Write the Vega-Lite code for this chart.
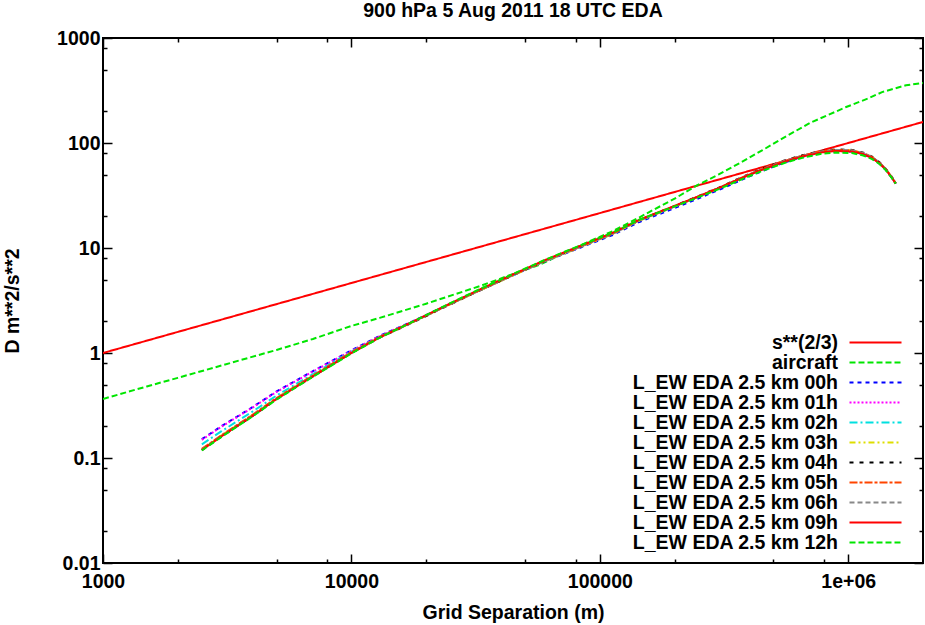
{
  "$schema": "https://vega.github.io/schema/vega-lite/v6.json",
  "autosize": "none",
  "width": 820,
  "height": 525,
  "padding": {"left": 103, "top": 38, "right": 2, "bottom": 62},
  "background": "white",
  "config": {
    "view": {"stroke": "black", "strokeWidth": 2},
    "font": "Liberation Sans",
    "axis": {"labelFont": "Liberation Sans", "titleFont": "Liberation Sans", "labelColor": "black", "titleColor": "black", "tickColor": "black", "tickWidth": 1.5, "grid": false, "domain": false}
  },
  "title": {"text": "900 hPa 5 Aug 2011 18 UTC EDA", "fontSize": 19.5, "fontWeight": "bold", "font": "Liberation Sans", "anchor": "middle", "baseline": "alphabetic", "offset": -8},
  "data": {"values": [
    {"s": "s**(2/3)", "x": 1000, "y": 1},
    {"s": "s**(2/3)", "x": 10000, "y": 4.64},
    {"s": "s**(2/3)", "x": 100000, "y": 21.5},
    {"s": "s**(2/3)", "x": 1000000, "y": 100},
    {"s": "s**(2/3)", "x": 2000000, "y": 158.7},

    {"s": "aircraft", "x": 1000, "y": 0.365},
    {"s": "aircraft", "x": 1500, "y": 0.48},
    {"s": "aircraft", "x": 2000, "y": 0.58},
    {"s": "aircraft", "x": 3000, "y": 0.76},
    {"s": "aircraft", "x": 5000, "y": 1.07},
    {"s": "aircraft", "x": 7000, "y": 1.36},
    {"s": "aircraft", "x": 10000, "y": 1.81},
    {"s": "aircraft", "x": 13000, "y": 2.16},
    {"s": "aircraft", "x": 20000, "y": 2.95},
    {"s": "aircraft", "x": 33000, "y": 4.35},
    {"s": "aircraft", "x": 47500, "y": 5.95},
    {"s": "aircraft", "x": 57000, "y": 6.9},
    {"s": "aircraft", "x": 88000, "y": 11.2},
    {"s": "aircraft", "x": 113000, "y": 14.5},
    {"s": "aircraft", "x": 144000, "y": 19.5},
    {"s": "aircraft", "x": 158000, "y": 22.0},
    {"s": "aircraft", "x": 200000, "y": 29.5},
    {"s": "aircraft", "x": 244000, "y": 39},
    {"s": "aircraft", "x": 300000, "y": 50},
    {"s": "aircraft", "x": 364000, "y": 64},
    {"s": "aircraft", "x": 450000, "y": 85},
    {"s": "aircraft", "x": 542000, "y": 110},
    {"s": "aircraft", "x": 700000, "y": 155},
    {"s": "aircraft", "x": 981000, "y": 220},
    {"s": "aircraft", "x": 1200000, "y": 265},
    {"s": "aircraft", "x": 1368000, "y": 305},
    {"s": "aircraft", "x": 1709000, "y": 355},
    {"s": "aircraft", "x": 2000000, "y": 372},

    {"s": "L_EW EDA 2.5 km 00h", "x": 2500, "y": 0.151},
    {"s": "L_EW EDA 2.5 km 00h", "x": 3000, "y": 0.201},
    {"s": "L_EW EDA 2.5 km 00h", "x": 4000, "y": 0.305},
    {"s": "L_EW EDA 2.5 km 00h", "x": 5000, "y": 0.431},
    {"s": "L_EW EDA 2.5 km 00h", "x": 7000, "y": 0.672},
    {"s": "L_EW EDA 2.5 km 00h", "x": 10000, "y": 1.06},
    {"s": "L_EW EDA 2.5 km 00h", "x": 13000, "y": 1.456},
    {"s": "L_EW EDA 2.5 km 00h", "x": 17700, "y": 2.01},
    {"s": "L_EW EDA 2.5 km 00h", "x": 24100, "y": 2.83},
    {"s": "L_EW EDA 2.5 km 00h", "x": 32800, "y": 3.95},
    {"s": "L_EW EDA 2.5 km 00h", "x": 44650, "y": 5.5},
    {"s": "L_EW EDA 2.5 km 00h", "x": 60800, "y": 7.55},
    {"s": "L_EW EDA 2.5 km 00h", "x": 82760, "y": 10.0},
    {"s": "L_EW EDA 2.5 km 00h", "x": 112700, "y": 13.3},
    {"s": "L_EW EDA 2.5 km 00h", "x": 144300, "y": 17.7},
    {"s": "L_EW EDA 2.5 km 00h", "x": 184800, "y": 22.3},
    {"s": "L_EW EDA 2.5 km 00h", "x": 240000, "y": 28.6},
    {"s": "L_EW EDA 2.5 km 00h", "x": 302700, "y": 35.9},
    {"s": "L_EW EDA 2.5 km 00h", "x": 380000, "y": 45.6},
    {"s": "L_EW EDA 2.5 km 00h", "x": 451800, "y": 54.2},
    {"s": "L_EW EDA 2.5 km 00h", "x": 550000, "y": 65.0},
    {"s": "L_EW EDA 2.5 km 00h", "x": 654600, "y": 74.0},
    {"s": "L_EW EDA 2.5 km 00h", "x": 780000, "y": 81.4},
    {"s": "L_EW EDA 2.5 km 00h", "x": 891300, "y": 84.0},
    {"s": "L_EW EDA 2.5 km 00h", "x": 1037000, "y": 83.0},
    {"s": "L_EW EDA 2.5 km 00h", "x": 1150000, "y": 78.2},
    {"s": "L_EW EDA 2.5 km 00h", "x": 1248000, "y": 71.7},
    {"s": "L_EW EDA 2.5 km 00h", "x": 1340000, "y": 63.3},
    {"s": "L_EW EDA 2.5 km 00h", "x": 1416000, "y": 55.5},
    {"s": "L_EW EDA 2.5 km 00h", "x": 1490000, "y": 47.5},
    {"s": "L_EW EDA 2.5 km 00h", "x": 1554000, "y": 41.0},

    {"s": "L_EW EDA 2.5 km 01h", "x": 2500, "y": 0.149},
    {"s": "L_EW EDA 2.5 km 01h", "x": 3000, "y": 0.199},
    {"s": "L_EW EDA 2.5 km 01h", "x": 4000, "y": 0.302},
    {"s": "L_EW EDA 2.5 km 01h", "x": 5000, "y": 0.427},
    {"s": "L_EW EDA 2.5 km 01h", "x": 7000, "y": 0.666},
    {"s": "L_EW EDA 2.5 km 01h", "x": 10000, "y": 1.05},
    {"s": "L_EW EDA 2.5 km 01h", "x": 13000, "y": 1.45},
    {"s": "L_EW EDA 2.5 km 01h", "x": 17700, "y": 2.0},
    {"s": "L_EW EDA 2.5 km 01h", "x": 24100, "y": 2.82},
    {"s": "L_EW EDA 2.5 km 01h", "x": 32800, "y": 3.96},
    {"s": "L_EW EDA 2.5 km 01h", "x": 44650, "y": 5.52},
    {"s": "L_EW EDA 2.5 km 01h", "x": 60800, "y": 7.62},
    {"s": "L_EW EDA 2.5 km 01h", "x": 82760, "y": 10.2},
    {"s": "L_EW EDA 2.5 km 01h", "x": 112700, "y": 13.7},
    {"s": "L_EW EDA 2.5 km 01h", "x": 144300, "y": 18.3},
    {"s": "L_EW EDA 2.5 km 01h", "x": 184800, "y": 23.1},
    {"s": "L_EW EDA 2.5 km 01h", "x": 240000, "y": 29.7},
    {"s": "L_EW EDA 2.5 km 01h", "x": 302700, "y": 37.3},
    {"s": "L_EW EDA 2.5 km 01h", "x": 380000, "y": 47.4},
    {"s": "L_EW EDA 2.5 km 01h", "x": 451800, "y": 56.1},
    {"s": "L_EW EDA 2.5 km 01h", "x": 550000, "y": 66.3},
    {"s": "L_EW EDA 2.5 km 01h", "x": 654600, "y": 74.8},
    {"s": "L_EW EDA 2.5 km 01h", "x": 780000, "y": 82.2},
    {"s": "L_EW EDA 2.5 km 01h", "x": 891300, "y": 85.0},
    {"s": "L_EW EDA 2.5 km 01h", "x": 1037000, "y": 84.0},
    {"s": "L_EW EDA 2.5 km 01h", "x": 1150000, "y": 79.0},
    {"s": "L_EW EDA 2.5 km 01h", "x": 1248000, "y": 72.2},
    {"s": "L_EW EDA 2.5 km 01h", "x": 1340000, "y": 63.6},
    {"s": "L_EW EDA 2.5 km 01h", "x": 1416000, "y": 55.8},
    {"s": "L_EW EDA 2.5 km 01h", "x": 1490000, "y": 47.6},
    {"s": "L_EW EDA 2.5 km 01h", "x": 1554000, "y": 41.1},

    {"s": "L_EW EDA 2.5 km 02h", "x": 2500, "y": 0.135},
    {"s": "L_EW EDA 2.5 km 02h", "x": 3000, "y": 0.180},
    {"s": "L_EW EDA 2.5 km 02h", "x": 4000, "y": 0.277},
    {"s": "L_EW EDA 2.5 km 02h", "x": 5000, "y": 0.394},
    {"s": "L_EW EDA 2.5 km 02h", "x": 7000, "y": 0.63},
    {"s": "L_EW EDA 2.5 km 02h", "x": 10000, "y": 1.03},
    {"s": "L_EW EDA 2.5 km 02h", "x": 13000, "y": 1.43},
    {"s": "L_EW EDA 2.5 km 02h", "x": 17700, "y": 1.99},
    {"s": "L_EW EDA 2.5 km 02h", "x": 24100, "y": 2.81},
    {"s": "L_EW EDA 2.5 km 02h", "x": 32800, "y": 3.95},
    {"s": "L_EW EDA 2.5 km 02h", "x": 44650, "y": 5.5},
    {"s": "L_EW EDA 2.5 km 02h", "x": 60800, "y": 7.6},
    {"s": "L_EW EDA 2.5 km 02h", "x": 82760, "y": 10.2},
    {"s": "L_EW EDA 2.5 km 02h", "x": 112700, "y": 13.7},
    {"s": "L_EW EDA 2.5 km 02h", "x": 144300, "y": 18.3},
    {"s": "L_EW EDA 2.5 km 02h", "x": 184800, "y": 23.0},
    {"s": "L_EW EDA 2.5 km 02h", "x": 240000, "y": 29.6},
    {"s": "L_EW EDA 2.5 km 02h", "x": 302700, "y": 37.2},
    {"s": "L_EW EDA 2.5 km 02h", "x": 380000, "y": 47.3},
    {"s": "L_EW EDA 2.5 km 02h", "x": 451800, "y": 56.0},
    {"s": "L_EW EDA 2.5 km 02h", "x": 550000, "y": 66.2},
    {"s": "L_EW EDA 2.5 km 02h", "x": 654600, "y": 74.6},
    {"s": "L_EW EDA 2.5 km 02h", "x": 780000, "y": 82.0},
    {"s": "L_EW EDA 2.5 km 02h", "x": 891300, "y": 84.9},
    {"s": "L_EW EDA 2.5 km 02h", "x": 1037000, "y": 84.0},
    {"s": "L_EW EDA 2.5 km 02h", "x": 1150000, "y": 79.2},
    {"s": "L_EW EDA 2.5 km 02h", "x": 1248000, "y": 72.5},
    {"s": "L_EW EDA 2.5 km 02h", "x": 1340000, "y": 64.0},
    {"s": "L_EW EDA 2.5 km 02h", "x": 1416000, "y": 56.0},
    {"s": "L_EW EDA 2.5 km 02h", "x": 1490000, "y": 47.8},
    {"s": "L_EW EDA 2.5 km 02h", "x": 1554000, "y": 41.2},

    {"s": "L_EW EDA 2.5 km 03h", "x": 2500, "y": 0.121},
    {"s": "L_EW EDA 2.5 km 03h", "x": 3000, "y": 0.164},
    {"s": "L_EW EDA 2.5 km 03h", "x": 4000, "y": 0.257},
    {"s": "L_EW EDA 2.5 km 03h", "x": 5000, "y": 0.372},
    {"s": "L_EW EDA 2.5 km 03h", "x": 7000, "y": 0.61},
    {"s": "L_EW EDA 2.5 km 03h", "x": 10000, "y": 1.01},
    {"s": "L_EW EDA 2.5 km 03h", "x": 13000, "y": 1.41},
    {"s": "L_EW EDA 2.5 km 03h", "x": 17700, "y": 1.97},
    {"s": "L_EW EDA 2.5 km 03h", "x": 24100, "y": 2.80},
    {"s": "L_EW EDA 2.5 km 03h", "x": 32800, "y": 3.93},
    {"s": "L_EW EDA 2.5 km 03h", "x": 44650, "y": 5.47},
    {"s": "L_EW EDA 2.5 km 03h", "x": 60800, "y": 7.55},
    {"s": "L_EW EDA 2.5 km 03h", "x": 82760, "y": 10.1},
    {"s": "L_EW EDA 2.5 km 03h", "x": 112700, "y": 13.6},
    {"s": "L_EW EDA 2.5 km 03h", "x": 144300, "y": 18.2},
    {"s": "L_EW EDA 2.5 km 03h", "x": 184800, "y": 23.0},
    {"s": "L_EW EDA 2.5 km 03h", "x": 240000, "y": 29.6},
    {"s": "L_EW EDA 2.5 km 03h", "x": 302700, "y": 37.3},
    {"s": "L_EW EDA 2.5 km 03h", "x": 380000, "y": 47.6},
    {"s": "L_EW EDA 2.5 km 03h", "x": 451800, "y": 56.5},
    {"s": "L_EW EDA 2.5 km 03h", "x": 550000, "y": 67.0},
    {"s": "L_EW EDA 2.5 km 03h", "x": 654600, "y": 75.6},
    {"s": "L_EW EDA 2.5 km 03h", "x": 780000, "y": 83.0},
    {"s": "L_EW EDA 2.5 km 03h", "x": 891300, "y": 86.0},
    {"s": "L_EW EDA 2.5 km 03h", "x": 1037000, "y": 85.0},
    {"s": "L_EW EDA 2.5 km 03h", "x": 1150000, "y": 80.0},
    {"s": "L_EW EDA 2.5 km 03h", "x": 1248000, "y": 73.3},
    {"s": "L_EW EDA 2.5 km 03h", "x": 1340000, "y": 64.6},
    {"s": "L_EW EDA 2.5 km 03h", "x": 1416000, "y": 56.4},
    {"s": "L_EW EDA 2.5 km 03h", "x": 1490000, "y": 48.0},
    {"s": "L_EW EDA 2.5 km 03h", "x": 1554000, "y": 41.3},

    {"s": "L_EW EDA 2.5 km 04h", "x": 2500, "y": 0.119},
    {"s": "L_EW EDA 2.5 km 04h", "x": 3000, "y": 0.160},
    {"s": "L_EW EDA 2.5 km 04h", "x": 4000, "y": 0.251},
    {"s": "L_EW EDA 2.5 km 04h", "x": 5000, "y": 0.363},
    {"s": "L_EW EDA 2.5 km 04h", "x": 7000, "y": 0.60},
    {"s": "L_EW EDA 2.5 km 04h", "x": 10000, "y": 1.0},
    {"s": "L_EW EDA 2.5 km 04h", "x": 13000, "y": 1.40},
    {"s": "L_EW EDA 2.5 km 04h", "x": 17700, "y": 1.96},
    {"s": "L_EW EDA 2.5 km 04h", "x": 24100, "y": 2.79},
    {"s": "L_EW EDA 2.5 km 04h", "x": 32800, "y": 3.94},
    {"s": "L_EW EDA 2.5 km 04h", "x": 44650, "y": 5.5},
    {"s": "L_EW EDA 2.5 km 04h", "x": 60800, "y": 7.62},
    {"s": "L_EW EDA 2.5 km 04h", "x": 82760, "y": 10.25},
    {"s": "L_EW EDA 2.5 km 04h", "x": 112700, "y": 13.8},
    {"s": "L_EW EDA 2.5 km 04h", "x": 144300, "y": 18.5},
    {"s": "L_EW EDA 2.5 km 04h", "x": 184800, "y": 23.3},
    {"s": "L_EW EDA 2.5 km 04h", "x": 240000, "y": 30.0},
    {"s": "L_EW EDA 2.5 km 04h", "x": 302700, "y": 37.8},
    {"s": "L_EW EDA 2.5 km 04h", "x": 380000, "y": 48.2},
    {"s": "L_EW EDA 2.5 km 04h", "x": 451800, "y": 57.2},
    {"s": "L_EW EDA 2.5 km 04h", "x": 550000, "y": 67.8},
    {"s": "L_EW EDA 2.5 km 04h", "x": 654600, "y": 76.5},
    {"s": "L_EW EDA 2.5 km 04h", "x": 780000, "y": 84.0},
    {"s": "L_EW EDA 2.5 km 04h", "x": 891300, "y": 87.0},
    {"s": "L_EW EDA 2.5 km 04h", "x": 1037000, "y": 86.0},
    {"s": "L_EW EDA 2.5 km 04h", "x": 1150000, "y": 81.0},
    {"s": "L_EW EDA 2.5 km 04h", "x": 1248000, "y": 74.0},
    {"s": "L_EW EDA 2.5 km 04h", "x": 1340000, "y": 65.2},
    {"s": "L_EW EDA 2.5 km 04h", "x": 1416000, "y": 56.8},
    {"s": "L_EW EDA 2.5 km 04h", "x": 1490000, "y": 48.3},
    {"s": "L_EW EDA 2.5 km 04h", "x": 1554000, "y": 41.5},

    {"s": "L_EW EDA 2.5 km 05h", "x": 2500, "y": 0.122},
    {"s": "L_EW EDA 2.5 km 05h", "x": 3000, "y": 0.165},
    {"s": "L_EW EDA 2.5 km 05h", "x": 4000, "y": 0.258},
    {"s": "L_EW EDA 2.5 km 05h", "x": 5000, "y": 0.373},
    {"s": "L_EW EDA 2.5 km 05h", "x": 7000, "y": 0.612},
    {"s": "L_EW EDA 2.5 km 05h", "x": 10000, "y": 1.02},
    {"s": "L_EW EDA 2.5 km 05h", "x": 13000, "y": 1.42},
    {"s": "L_EW EDA 2.5 km 05h", "x": 17700, "y": 1.98},
    {"s": "L_EW EDA 2.5 km 05h", "x": 24100, "y": 2.81},
    {"s": "L_EW EDA 2.5 km 05h", "x": 32800, "y": 3.96},
    {"s": "L_EW EDA 2.5 km 05h", "x": 44650, "y": 5.52},
    {"s": "L_EW EDA 2.5 km 05h", "x": 60800, "y": 7.62},
    {"s": "L_EW EDA 2.5 km 05h", "x": 82760, "y": 10.2},
    {"s": "L_EW EDA 2.5 km 05h", "x": 112700, "y": 13.75},
    {"s": "L_EW EDA 2.5 km 05h", "x": 144300, "y": 18.4},
    {"s": "L_EW EDA 2.5 km 05h", "x": 184800, "y": 23.2},
    {"s": "L_EW EDA 2.5 km 05h", "x": 240000, "y": 29.8},
    {"s": "L_EW EDA 2.5 km 05h", "x": 302700, "y": 37.5},
    {"s": "L_EW EDA 2.5 km 05h", "x": 380000, "y": 47.8},
    {"s": "L_EW EDA 2.5 km 05h", "x": 451800, "y": 56.7},
    {"s": "L_EW EDA 2.5 km 05h", "x": 550000, "y": 67.1},
    {"s": "L_EW EDA 2.5 km 05h", "x": 654600, "y": 75.7},
    {"s": "L_EW EDA 2.5 km 05h", "x": 780000, "y": 83.0},
    {"s": "L_EW EDA 2.5 km 05h", "x": 891300, "y": 86.0},
    {"s": "L_EW EDA 2.5 km 05h", "x": 1037000, "y": 85.0},
    {"s": "L_EW EDA 2.5 km 05h", "x": 1150000, "y": 80.0},
    {"s": "L_EW EDA 2.5 km 05h", "x": 1248000, "y": 73.3},
    {"s": "L_EW EDA 2.5 km 05h", "x": 1340000, "y": 64.6},
    {"s": "L_EW EDA 2.5 km 05h", "x": 1416000, "y": 56.4},
    {"s": "L_EW EDA 2.5 km 05h", "x": 1490000, "y": 48.0},
    {"s": "L_EW EDA 2.5 km 05h", "x": 1554000, "y": 41.3},

    {"s": "L_EW EDA 2.5 km 06h", "x": 2500, "y": 0.120},
    {"s": "L_EW EDA 2.5 km 06h", "x": 3000, "y": 0.162},
    {"s": "L_EW EDA 2.5 km 06h", "x": 4000, "y": 0.254},
    {"s": "L_EW EDA 2.5 km 06h", "x": 5000, "y": 0.367},
    {"s": "L_EW EDA 2.5 km 06h", "x": 7000, "y": 0.604},
    {"s": "L_EW EDA 2.5 km 06h", "x": 10000, "y": 1.0},
    {"s": "L_EW EDA 2.5 km 06h", "x": 13000, "y": 1.40},
    {"s": "L_EW EDA 2.5 km 06h", "x": 17700, "y": 1.97},
    {"s": "L_EW EDA 2.5 km 06h", "x": 24100, "y": 2.80},
    {"s": "L_EW EDA 2.5 km 06h", "x": 32800, "y": 3.95},
    {"s": "L_EW EDA 2.5 km 06h", "x": 44650, "y": 5.5},
    {"s": "L_EW EDA 2.5 km 06h", "x": 60800, "y": 7.6},
    {"s": "L_EW EDA 2.5 km 06h", "x": 82760, "y": 10.2},
    {"s": "L_EW EDA 2.5 km 06h", "x": 112700, "y": 13.7},
    {"s": "L_EW EDA 2.5 km 06h", "x": 144300, "y": 18.35},
    {"s": "L_EW EDA 2.5 km 06h", "x": 184800, "y": 23.1},
    {"s": "L_EW EDA 2.5 km 06h", "x": 240000, "y": 29.7},
    {"s": "L_EW EDA 2.5 km 06h", "x": 302700, "y": 37.4},
    {"s": "L_EW EDA 2.5 km 06h", "x": 380000, "y": 47.7},
    {"s": "L_EW EDA 2.5 km 06h", "x": 451800, "y": 56.6},
    {"s": "L_EW EDA 2.5 km 06h", "x": 550000, "y": 67.0},
    {"s": "L_EW EDA 2.5 km 06h", "x": 654600, "y": 75.6},
    {"s": "L_EW EDA 2.5 km 06h", "x": 780000, "y": 82.9},
    {"s": "L_EW EDA 2.5 km 06h", "x": 891300, "y": 86.0},
    {"s": "L_EW EDA 2.5 km 06h", "x": 1037000, "y": 85.0},
    {"s": "L_EW EDA 2.5 km 06h", "x": 1150000, "y": 80.1},
    {"s": "L_EW EDA 2.5 km 06h", "x": 1248000, "y": 73.4},
    {"s": "L_EW EDA 2.5 km 06h", "x": 1340000, "y": 64.7},
    {"s": "L_EW EDA 2.5 km 06h", "x": 1416000, "y": 56.5},
    {"s": "L_EW EDA 2.5 km 06h", "x": 1490000, "y": 48.1},
    {"s": "L_EW EDA 2.5 km 06h", "x": 1554000, "y": 41.3},

    {"s": "L_EW EDA 2.5 km 09h", "x": 2500, "y": 0.119},
    {"s": "L_EW EDA 2.5 km 09h", "x": 3000, "y": 0.161},
    {"s": "L_EW EDA 2.5 km 09h", "x": 4000, "y": 0.252},
    {"s": "L_EW EDA 2.5 km 09h", "x": 5000, "y": 0.365},
    {"s": "L_EW EDA 2.5 km 09h", "x": 7000, "y": 0.6},
    {"s": "L_EW EDA 2.5 km 09h", "x": 10000, "y": 1.0},
    {"s": "L_EW EDA 2.5 km 09h", "x": 13000, "y": 1.41},
    {"s": "L_EW EDA 2.5 km 09h", "x": 17700, "y": 1.99},
    {"s": "L_EW EDA 2.5 km 09h", "x": 24100, "y": 2.84},
    {"s": "L_EW EDA 2.5 km 09h", "x": 32800, "y": 4.02},
    {"s": "L_EW EDA 2.5 km 09h", "x": 44650, "y": 5.6},
    {"s": "L_EW EDA 2.5 km 09h", "x": 60800, "y": 7.75},
    {"s": "L_EW EDA 2.5 km 09h", "x": 82760, "y": 10.4},
    {"s": "L_EW EDA 2.5 km 09h", "x": 112700, "y": 13.95},
    {"s": "L_EW EDA 2.5 km 09h", "x": 144300, "y": 18.6},
    {"s": "L_EW EDA 2.5 km 09h", "x": 184800, "y": 23.4},
    {"s": "L_EW EDA 2.5 km 09h", "x": 240000, "y": 29.9},
    {"s": "L_EW EDA 2.5 km 09h", "x": 302700, "y": 37.4},
    {"s": "L_EW EDA 2.5 km 09h", "x": 380000, "y": 47.3},
    {"s": "L_EW EDA 2.5 km 09h", "x": 451800, "y": 55.8},
    {"s": "L_EW EDA 2.5 km 09h", "x": 550000, "y": 66.0},
    {"s": "L_EW EDA 2.5 km 09h", "x": 654600, "y": 74.4},
    {"s": "L_EW EDA 2.5 km 09h", "x": 780000, "y": 81.3},
    {"s": "L_EW EDA 2.5 km 09h", "x": 891300, "y": 84.0},
    {"s": "L_EW EDA 2.5 km 09h", "x": 1037000, "y": 83.0},
    {"s": "L_EW EDA 2.5 km 09h", "x": 1150000, "y": 78.3},
    {"s": "L_EW EDA 2.5 km 09h", "x": 1248000, "y": 72.0},
    {"s": "L_EW EDA 2.5 km 09h", "x": 1340000, "y": 63.6},
    {"s": "L_EW EDA 2.5 km 09h", "x": 1416000, "y": 55.8},
    {"s": "L_EW EDA 2.5 km 09h", "x": 1490000, "y": 47.6},
    {"s": "L_EW EDA 2.5 km 09h", "x": 1554000, "y": 41.0},

    {"s": "L_EW EDA 2.5 km 12h", "x": 2500, "y": 0.118},
    {"s": "L_EW EDA 2.5 km 12h", "x": 3000, "y": 0.159},
    {"s": "L_EW EDA 2.5 km 12h", "x": 4000, "y": 0.249},
    {"s": "L_EW EDA 2.5 km 12h", "x": 5000, "y": 0.361},
    {"s": "L_EW EDA 2.5 km 12h", "x": 7000, "y": 0.594},
    {"s": "L_EW EDA 2.5 km 12h", "x": 10000, "y": 0.99},
    {"s": "L_EW EDA 2.5 km 12h", "x": 13000, "y": 1.40},
    {"s": "L_EW EDA 2.5 km 12h", "x": 17700, "y": 1.99},
    {"s": "L_EW EDA 2.5 km 12h", "x": 24100, "y": 2.86},
    {"s": "L_EW EDA 2.5 km 12h", "x": 32800, "y": 4.05},
    {"s": "L_EW EDA 2.5 km 12h", "x": 44650, "y": 5.65},
    {"s": "L_EW EDA 2.5 km 12h", "x": 60800, "y": 7.8},
    {"s": "L_EW EDA 2.5 km 12h", "x": 82760, "y": 10.5},
    {"s": "L_EW EDA 2.5 km 12h", "x": 112700, "y": 14.0},
    {"s": "L_EW EDA 2.5 km 12h", "x": 144300, "y": 18.6},
    {"s": "L_EW EDA 2.5 km 12h", "x": 184800, "y": 23.2},
    {"s": "L_EW EDA 2.5 km 12h", "x": 240000, "y": 29.4},
    {"s": "L_EW EDA 2.5 km 12h", "x": 302700, "y": 36.6},
    {"s": "L_EW EDA 2.5 km 12h", "x": 380000, "y": 46.0},
    {"s": "L_EW EDA 2.5 km 12h", "x": 451800, "y": 54.4},
    {"s": "L_EW EDA 2.5 km 12h", "x": 550000, "y": 64.2},
    {"s": "L_EW EDA 2.5 km 12h", "x": 654600, "y": 72.4},
    {"s": "L_EW EDA 2.5 km 12h", "x": 780000, "y": 78.8},
    {"s": "L_EW EDA 2.5 km 12h", "x": 891300, "y": 81.0},
    {"s": "L_EW EDA 2.5 km 12h", "x": 1037000, "y": 80.3},
    {"s": "L_EW EDA 2.5 km 12h", "x": 1150000, "y": 76.0},
    {"s": "L_EW EDA 2.5 km 12h", "x": 1248000, "y": 70.3},
    {"s": "L_EW EDA 2.5 km 12h", "x": 1340000, "y": 62.8},
    {"s": "L_EW EDA 2.5 km 12h", "x": 1416000, "y": 55.2},
    {"s": "L_EW EDA 2.5 km 12h", "x": 1490000, "y": 47.3},
    {"s": "L_EW EDA 2.5 km 12h", "x": 1554000, "y": 41.0}
  ]},
  "layer": [
    {
      "mark": {"type": "line", "strokeWidth": 2, "clip": true},
      "encoding": {
        "x": {
          "field": "x", "type": "quantitative",
          "scale": {"type": "log", "domain": [1000, 2000000], "nice": false},
          "axis": {
            "title": "Grid Separation (m)", "titleFontSize": 19.5, "titleFontWeight": "bold", "titlePadding": 8,
            "values": [1000, 2000, 5000, 8000, 10000, 20000, 50000, 80000, 100000, 200000, 500000, 800000, 1000000],
            "tickSize": {"condition": {"test": "indexof([1000,10000,100000,1000000], datum.value) >= 0", "value": -9}, "value": -4},
            "labelExpr": "datum.value == 1000000 ? '1e+06' : indexof([1000,10000,100000], datum.value) >= 0 ? format(datum.value, 'd') : ''",
            "labelFontSize": 19.5, "labelFontWeight": "bold", "labelPadding": 18, "labelFlush": false, "labelOverlap": false
          }
        },
        "y": {
          "field": "y", "type": "quantitative",
          "scale": {"type": "log", "domain": [0.01, 1000], "nice": false},
          "axis": {
            "title": "D m**2/s**2", "titleFontSize": 19.5, "titleFontWeight": "bold", "titlePadding": 34,
            "values": [0.01, 0.02, 0.05, 0.08, 0.1, 0.2, 0.5, 0.8, 1, 2, 5, 8, 10, 20, 50, 80, 100, 200, 500, 800, 1000],
            "tickSize": {"condition": {"test": "indexof([0.01,0.1,1,10,100,1000], datum.value) >= 0", "value": -9}, "value": -4},
            "labelExpr": "indexof([0.01,0.1,1,10,100,1000], datum.value) >= 0 ? format(datum.value, '~g') : ''",
            "labelFontSize": 19.5, "labelFontWeight": "bold", "labelPadding": 12, "labelFlush": false, "labelOverlap": false
          }
        },
        "color": {
          "field": "s", "type": "nominal",
          "scale": {
            "domain": ["s**(2/3)", "aircraft", "L_EW EDA 2.5 km 00h", "L_EW EDA 2.5 km 01h", "L_EW EDA 2.5 km 02h", "L_EW EDA 2.5 km 03h", "L_EW EDA 2.5 km 04h", "L_EW EDA 2.5 km 05h", "L_EW EDA 2.5 km 06h", "L_EW EDA 2.5 km 09h", "L_EW EDA 2.5 km 12h"],
            "range": ["#ff0000", "#00e600", "#0000ff", "#ff00ff", "#00e0e0", "#dede00", "#000000", "#ff4500", "#888888", "#ff0000", "#00e600"]
          },
          "legend": {
            "title": null, "orient": "none", "legendX": 762, "legendY": 294, "padding": 0,
            "symbolType": "M-2.737,0H2.737", "symbolSize": 361, "symbolStrokeWidth": 2,
            "labelAlign": "right", "labelOffset": -48, "labelFontSize": 19.5, "labelFontWeight": "bold", "labelFont": "Liberation Sans", "labelColor": "black",
            "labelLimit": 400, "rowPadding": 0
          }
        },
        "strokeDash": {
          "field": "s", "type": "nominal",
          "scale": {
            "domain": ["s**(2/3)", "aircraft", "L_EW EDA 2.5 km 00h", "L_EW EDA 2.5 km 01h", "L_EW EDA 2.5 km 02h", "L_EW EDA 2.5 km 03h", "L_EW EDA 2.5 km 04h", "L_EW EDA 2.5 km 05h", "L_EW EDA 2.5 km 06h", "L_EW EDA 2.5 km 09h", "L_EW EDA 2.5 km 12h"],
            "range": [[1, 0], [6, 3], [4, 4], [2, 2], [8, 3, 2, 3], [6, 3, 2, 3, 2, 3], [4, 6], [8, 2, 3, 2], [5, 3], [1, 0], [6, 3]]
          },
          "legend": null
        }
      }
    },
    {
      "transform": [{"filter": "datum.s == 's**(2/3)'"}],
      "mark": {"type": "line", "strokeOpacity": 0},
      "encoding": {
        "x": {
          "field": "x", "type": "quantitative",
          "scale": {"type": "log", "domain": [1000, 2000000], "nice": false},
          "axis": {
            "orient": "top", "title": null, "labels": false,
            "values": [1000, 2000, 5000, 8000, 10000, 20000, 50000, 80000, 100000, 200000, 500000, 800000, 1000000],
            "tickSize": {"condition": {"test": "indexof([1000,10000,100000,1000000], datum.value) >= 0", "value": -9}, "value": -4}
          }
        },
        "y": {
          "field": "y", "type": "quantitative",
          "scale": {"type": "log", "domain": [0.01, 1000], "nice": false},
          "axis": {
            "orient": "right", "title": null, "labels": false,
            "values": [0.01, 0.02, 0.05, 0.08, 0.1, 0.2, 0.5, 0.8, 1, 2, 5, 8, 10, 20, 50, 80, 100, 200, 500, 800, 1000],
            "tickSize": {"condition": {"test": "indexof([0.01,0.1,1,10,100,1000], datum.value) >= 0", "value": -9}, "value": -4}
          }
        }
      }
    }
  ],
  "resolve": {"axis": {"x": "independent", "y": "independent"}}
}
